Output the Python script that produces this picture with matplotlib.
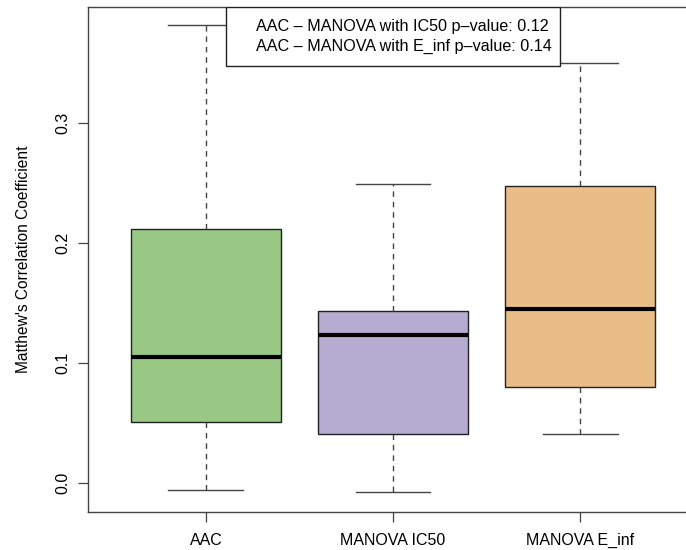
import numpy as np
import matplotlib
matplotlib.use("Agg")
from matplotlib import pyplot as plt
from matplotlib.patches import Rectangle

plt.rcParams['font.family'] = ['Liberation Sans', 'DejaVu Sans']

# box stats
groups = ["AAC", "MANOVA IC50", "MANOVA E_inf"]
lows = [-0.0056, -0.0078, 0.0411]
q1s = [0.0511, 0.0406, 0.0797]
medians = [0.1047, 0.1233, 0.1453]
q3s = [0.2119, 0.1436, 0.2472]
highs = [0.3814, 0.2494, 0.3497]
colors = ["#99C885", "#B6ABD0", "#EBBD86"]

legend_lines = ["AAC \u2013 MANOVA with IC50 p\u2013value: 0.12",
                "AAC \u2013 MANOVA with E_inf p\u2013value: 0.14"]
y_ticks = [0.0, 0.1, 0.2, 0.3]

fig = plt.figure(figsize=(6.86, 5.5), dpi=100)
ax = fig.add_axes([0.1283, 0.0691, 0.8892, 0.9176])

stats = []
for i in range(len(groups)):
    stats.append({"whislo": lows[i], "q1": q1s[i], "med": medians[i],
                  "q3": q3s[i], "whishi": highs[i], "label": groups[i]})

bp = ax.bxp(stats, positions=[1, 2, 3], widths=0.8, patch_artist=True,
            showfliers=False,
            boxprops=dict(linewidth=1.0, edgecolor="#222222"),
            medianprops=dict(color="black", linewidth=3.0, solid_capstyle="butt"),
            whiskerprops=dict(color="#444444", linewidth=1.0, linestyle=(0, (4, 3.5))),
            capprops=dict(color="#444444", linewidth=1.0),
            capwidths=0.4)
for patch, c in zip(bp["boxes"], colors):
    patch.set_facecolor(c)

ax.set_xlim(0.37, 3.63)
ax.set_ylim(-0.0242, 0.3964)

ax.set_yticks(y_ticks)
ax.set_yticklabels(["%.1f" % t for t in y_ticks], rotation=90, va="center")
ax.set_xticks([1, 2, 3])
ax.set_xticklabels(groups)
ax.tick_params(axis="both", length=7, width=0.9, color="#444444",
               labelsize=11.5, pad=8)
ax.tick_params(axis="y", pad=6)
for s in ax.spines.values():
    s.set_color("#444444")
    s.set_linewidth(1.0)

ax.set_ylabel("Matthew's Correlation Coefficient", fontsize=11.2, labelpad=17)

# legend box at top centre, as R's legend("top")
ax.add_patch(Rectangle((1.11, 0.3478), 1.78, 0.0486, facecolor="white",
                       edgecolor="#222222", linewidth=1.0, zorder=5))
ax.text(1.267, 0.3800, legend_lines[0], fontsize=11.6, va="center", ha="left", zorder=6)
ax.text(1.267, 0.3636, legend_lines[1], fontsize=11.6, va="center", ha="left", zorder=6)

fig.savefig("out.png", dpi=100)
